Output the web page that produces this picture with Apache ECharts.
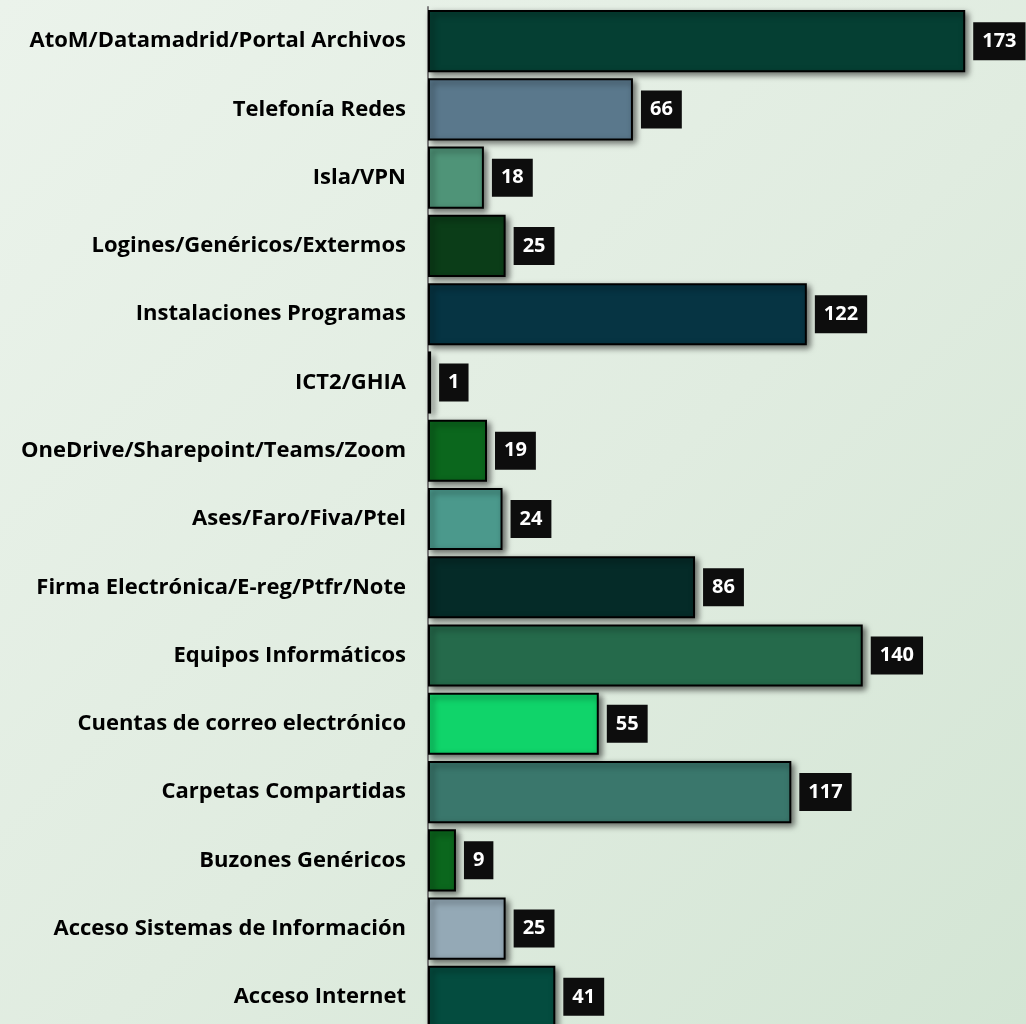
<!DOCTYPE html>
<html>
<head>
<meta charset="utf-8">
<script src="https://cdn.jsdelivr.net/npm/echarts@6/dist/echarts.min.js"></script>
<style>
  html, body { margin: 0; padding: 0; }
  #chart {
    width: 1026px;
    height: 1024px;
    background: linear-gradient(135deg, #ebf3eb 0%, #e0ece0 55%, #d3e5d4 100%);
  }
</style>
</head>
<body>
<div id="chart"></div>
<script>
// categories, top to bottom
const categories = [
  'AtoM/Datamadrid/Portal Archivos',
  'Telefonía Redes',
  'Isla/VPN',
  'Logines/Genéricos/Extermos',
  'Instalaciones Programas',
  'ICT2/GHIA',
  'OneDrive/Sharepoint/Teams/Zoom',
  'Ases/Faro/Fiva/Ptel',
  'Firma Electrónica/E-reg/Ptfr/Note',
  'Equipos Informáticos',
  'Cuentas de correo electrónico',
  'Carpetas Compartidas',
  'Buzones Genéricos',
  'Acceso Sistemas de Información',
  'Acceso Internet'
]
const values = [173, 66, 18, 25, 122, 1, 19, 24, 86, 140, 55, 117, 9, 25, 41]
const barColors = [
  '#053f33', '#5a788c', '#4f9478', '#0b3d18', '#063443',
  '#0a2b22', '#0b671d', '#4b998c', '#052b28', '#256a4b',
  '#10d46a', '#3a776c', '#0b671d', '#94a9b6', '#044c3f'
]

const chart = echarts.init(document.getElementById('chart'))

chart.setOption({
  backgroundColor: 'transparent',
  animation: false,
  grid: {
    left: 428,
    top: 7,
    width: 590,
    height: 1024,
    containLabel: false,
    outerBoundsMode: 'none'
  },
  xAxis: {
    type: 'value',
    min: 0,
    max: 190,
    show: false
  },
  yAxis: {
    type: 'category',
    data: categories,
    inverse: true,
    axisLine: { show: true, lineStyle: { color: '#808080', width: 2 } },
    axisTick: { show: false },
    splitLine: { show: false },
    axisLabel: {
      margin: 22,
      color: '#000',
      fontFamily: 'Open Sans',
      fontWeight: 'bold',
      fontSize: 22
    }
  },
  series: [
    {
      type: 'bar',
      barCategoryGap: '9%',
      data: values.map((v, i) => ({
        value: v,
        itemStyle: { color: barColors[i] }
      })),
      itemStyle: {
        borderColor: '#000',
        borderWidth: 2,
        shadowColor: 'rgba(0,0,0,0.55)',
        shadowBlur: 6,
        shadowOffsetX: 3,
        shadowOffsetY: 3
      },
      label: {
        show: true,
        position: 'right',
        distance: 8,
        color: '#fff',
        fontFamily: 'Open Sans',
        fontWeight: 'bold',
        fontSize: 20,
        lineHeight: 20,
        backgroundColor: '#0d0d0d',
        padding: [9, 9]
      }
    }
  ]
})
</script>
</body>
</html>
